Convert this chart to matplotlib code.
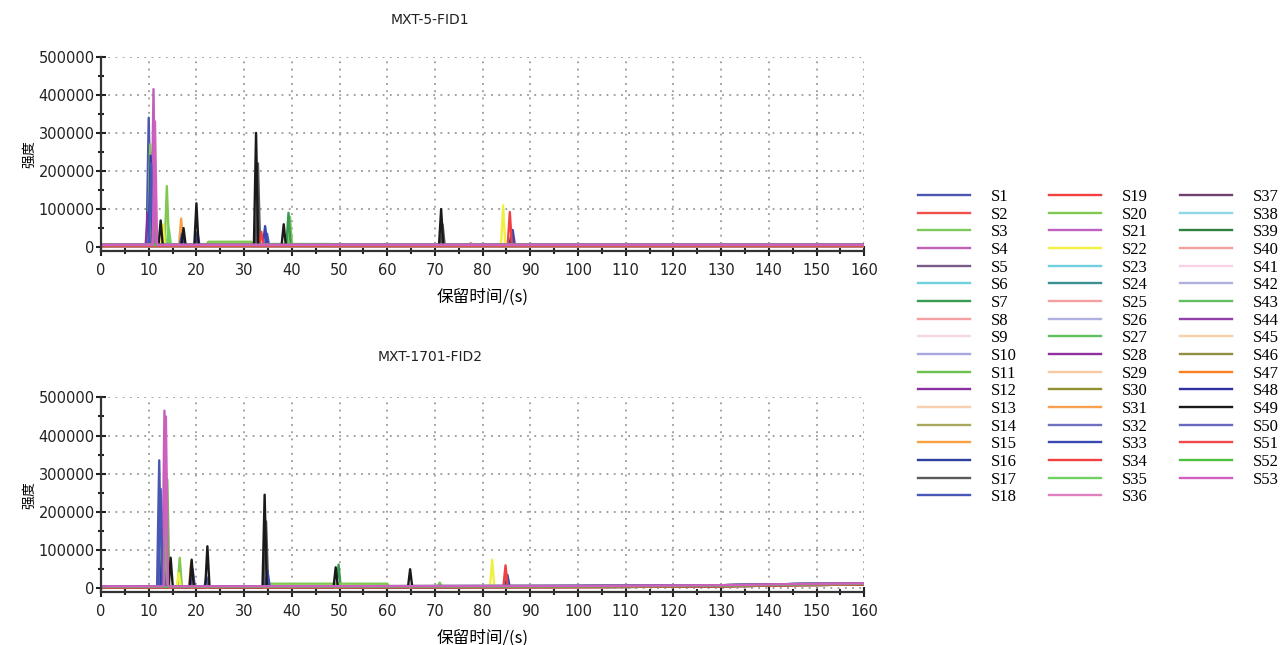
import numpy as np
import matplotlib
matplotlib.use("Agg")
import matplotlib.pyplot as plt
from matplotlib.ticker import MultipleLocator

plt.rcParams['font.family'] = ['DejaVu Sans', 'Noto Sans CJK SC']
cjk = ['Noto Sans CJK SC', 'DejaVu Sans']

# nombres y colores de las 53 muestras
series_names = ["S%d" % i for i in range(1, 54)]
series_colors = [
    '#4a56b0', '#f0504a', '#7cc85a', '#c060b8', '#7a5a88', '#70d0e0', '#3a9a50',
    '#f4a0a0', '#f4d8e8', '#a8a8e0', '#6cc050', '#8a30a0', '#f8d0b0', '#a8a860',
    '#f8a040', '#3040a0', '#5a5a5a', '#4858b8',
    '#f04040', '#80c850', '#c060c0', '#f0f040', '#70d0e0', '#3a9090', '#f4a0a0',
    '#b0b0e0', '#60c060', '#9030a0', '#f8c8a0', '#909030', '#f8a050', '#7070c0',
    '#3848b0', '#f04040', '#70d060', '#e080c0',
    '#704070', '#90d8e8', '#308040', '#f0a0a0', '#f8d0e8', '#b0b0e0', '#60c060',
    '#9040a8', '#f8d0a8', '#909040', '#f88020', '#3030a0', '#1a1a1a', '#6868c0',
    '#f04848', '#50c040', '#d060c0',
]

# picos: (muestra, t inicio, t fin, altura)
fid1_peaks = [
    (12, 9.8, 9.8, 90000), (1, 10.0, 10.0, 340000), (6, 10.1, 10.1, 40000),
    (3, 10.3, 10.3, 270000), (16, 10.4, 10.4, 240000), (18, 10.5, 10.5, 220000),
    (11, 10.6, 10.6, 170000), (2, 10.8, 10.8, 250000), (4, 11.0, 11.0, 415000),
    (53, 11.3, 11.3, 330000), (49, 12.5, 12.5, 70000), (22, 13.0, 13.0, 60000),
    (20, 13.8, 13.8, 160000), (35, 14.2, 14.2, 50000), (15, 16.8, 16.8, 75000),
    (33, 17.0, 17.0, 35000), (49, 17.3, 17.3, 50000), (49, 20.0, 20.0, 115000),
    (16, 20.2, 20.2, 40000), (20, 22.5, 31.5, 14000), (49, 32.5, 32.5, 300000),
    (17, 32.9, 32.9, 220000), (34, 33.6, 33.6, 40000), (33, 34.4, 34.4, 55000),
    (1, 34.8, 34.8, 35000), (43, 35.5, 48.0, 8000), (49, 38.3, 38.3, 60000),
    (7, 39.3, 39.3, 90000), (3, 39.6, 39.6, 80000), (49, 71.3, 71.3, 100000),
    (17, 71.6, 71.6, 60000), (2, 77.5, 77.5, 10000), (22, 84.3, 84.3, 110000),
    (34, 85.7, 85.7, 92000), (16, 86.0, 86.0, 30000), (33, 86.3, 86.3, 45000),
]
fid2_peaks = [
    (1, 12.2, 12.2, 335000), (18, 12.5, 12.5, 260000), (3, 12.6, 12.6, 190000),
    (16, 12.9, 12.9, 120000), (2, 13.0, 13.0, 100000), (4, 13.3, 13.3, 465000),
    (53, 13.6, 13.6, 450000), (11, 13.9, 13.9, 285000), (49, 14.6, 14.6, 80000),
    (22, 16.3, 16.3, 40000), (20, 16.5, 16.5, 80000), (15, 18.9, 18.9, 70000),
    (49, 19.0, 19.0, 75000), (33, 19.2, 19.2, 50000), (1, 22.1, 22.1, 30000),
    (49, 22.3, 22.3, 110000), (49, 34.3, 34.3, 245000), (17, 34.6, 34.6, 175000),
    (33, 34.9, 34.9, 45000), (20, 35.5, 60.0, 12000), (49, 49.2, 49.2, 55000),
    (7, 49.8, 49.8, 62000), (49, 64.8, 64.8, 50000), (3, 71.0, 71.0, 15000),
    (22, 82.0, 82.0, 75000), (34, 84.8, 84.8, 60000), (33, 85.2, 85.2, 35000),
]

# linea base
fid1_drift_t = [0, 160]
fid1_drift_y = [3000, 3000]
fid2_drift_t = [0, 100, 130, 145, 160]
fid2_drift_y = [2000, 3000, 5000, 8000, 10000]
base_levels = [0, 1500, 3000, 800, 2200]

xticks = list(range(0, 161, 10))
yticks = [0, 100000, 200000, 300000, 400000, 500000]

fig = plt.figure(figsize=(12.87, 6.45), dpi=100)
ax1 = fig.add_axes([0.0785, 0.611, 0.593, 0.301])
ax2 = fig.add_axes([0.0785, 0.082, 0.593, 0.302])


def draw_panel(ax, peaks, drift_t, drift_y):
    w = 0.45
    for i in range(53):
        lvl = base_levels[i % 5]
        pts = [(t, y + lvl) for t, y in zip(drift_t, drift_y)]
        b = drift_y[0] + lvl
        for s, t0, t1, h in peaks:
            if s != i + 1:
                continue
            pts += [(t0 - w, b), (t0, h), (t1, h), (t1 + w, b)]
        pts.sort(key=lambda p: p[0])
        xs = [p[0] for p in pts]
        ys = [p[1] for p in pts]
        ax.plot(xs, ys, color=series_colors[i], lw=1.7, label=series_names[i])

    ax.set_xlim(0, 160)
    ax.set_ylim(-10000, 500000)
    ax.set_xticks(xticks)
    ax.set_yticks(yticks)
    ax.xaxis.set_minor_locator(MultipleLocator(5))
    ax.yaxis.set_minor_locator(MultipleLocator(50000))
    ax.tick_params(which='both', direction='inout', colors='#222', labelsize=10.5,
                   width=1.5, pad=1)
    ax.tick_params(axis='x', which='major', pad=5)
    ax.tick_params(which='major', length=7)
    ax.tick_params(which='minor', length=5)
    ax.grid(True, which='major', color='#999', linestyle=(0, (1, 3)), lw=1.3)
    for side in ['top', 'right']:
        ax.spines[side].set_visible(False)
    for side in ['left', 'bottom']:
        ax.spines[side].set_linewidth(1.6)
        ax.spines[side].set_color('#333')
    ax.set_xlabel('保留时间/(s)', family=cjk, fontsize=12, labelpad=8)
    ax.set_ylabel('强度', family=cjk, fontsize=10, labelpad=2)


draw_panel(ax1, fid1_peaks, fid1_drift_t, fid1_drift_y)
draw_panel(ax2, fid2_peaks, fid2_drift_t, fid2_drift_y)

fig.text(0.334, 0.969, 'MXT-5-FID1', fontsize=10, ha='center', va='center', color='#222')
fig.text(0.334, 0.446, 'MXT-1701-FID2', fontsize=10, ha='center', va='center', color='#222')

handles, labels = ax1.get_legend_handles_labels()
fig.legend(handles, labels, ncol=3, loc='upper left', bbox_to_anchor=(0.7133, 0.707),
           frameon=False, prop={'family': 'Liberation Serif', 'size': 12},
           handlelength=3.1, handletextpad=1.3, columnspacing=1.9,
           labelspacing=0.1, borderpad=0, borderaxespad=0)

fig.savefig('out.png', dpi=100, facecolor='white')
